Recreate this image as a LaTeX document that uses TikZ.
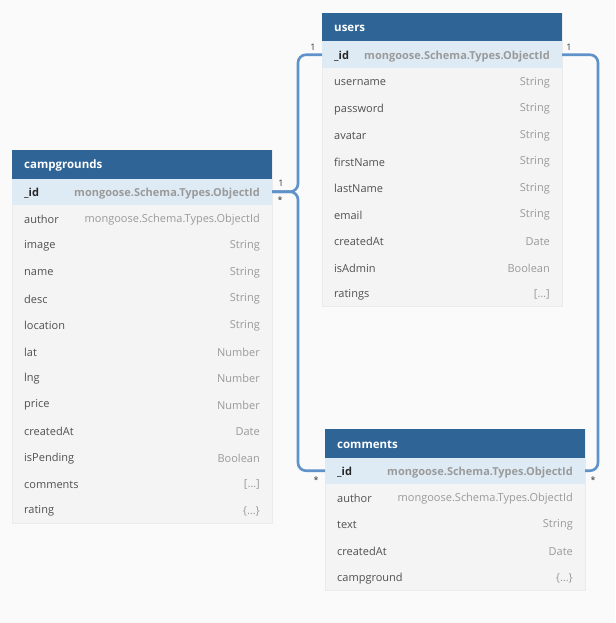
\documentclass[tikz,border=0pt]{standalone}
\usepackage{fontspec}
\setmainfont{Open Sans}
\usetikzlibrary{calc}
\definecolor{bgc}{HTML}{FAFAFA}
\definecolor{tblc}{HTML}{F4F4F4}
\definecolor{tblborder}{HTML}{EBEBEB}
\definecolor{hdrc}{HTML}{2E6596}
\definecolor{idc}{HTML}{DEEBF5}
\definecolor{fieldc}{HTML}{505050}
\definecolor{typec}{HTML}{9A9A9A}
\definecolor{connc}{HTML}{5F92C8}
\tikzset{
  hdrbox/.style={fill=hdrc, draw=none, minimum height=28.5pt, inner sep=0pt, outer sep=0pt},
  idbox/.style={fill=idc, draw=none, minimum height=26.5pt, inner sep=0pt, outer sep=0pt},
  rowbox/.style={draw=none, minimum height=26.5pt, inner sep=0pt, outer sep=0pt},
  hdrtext/.style={font=\fontsize{11.5}{13}\selectfont\bfseries, text=white, inner sep=0pt},
  fieldtext/.style={font=\fontsize{11}{12}\selectfont, text=fieldc, inner sep=0pt},
  typetext/.style={font=\fontsize{11}{12}\selectfont, text=typec, inner sep=0pt},
  idname/.style={font=\fontsize{11}{12}\selectfont\bfseries, text=black!85, inner sep=0pt},
  idtype/.style={font=\fontsize{11}{12}\selectfont\bfseries, text=typec, inner sep=0pt},
  conn/.style={draw=connc, line width=2.6pt, rounded corners=8pt},
  mult/.style={font=\fontsize{9}{10}\selectfont, text=black!80, inner sep=0pt}
}
% #1 name, #2 x, #3 ytop, #4 width, #5 number of rows, #6 title, #7 id type, #8 other rows
\newcommand\mktable[8]{%
  \fill[tblc, draw=tblborder, line width=0.5pt] (#2,#3) rectangle ++(#4,{28.5+#5*26.5});
  \node[hdrbox, minimum width=#4pt, anchor=north west] (#1-h) at (#2,#3) {};
  \node[hdrtext, anchor=west] (#1-t) at ($(#1-h.west)+(12,1.5)$) {#6};
  \node[idbox, minimum width=#4pt, anchor=north west] (#1-id) at (#2,{#3+28.5}) {};
  \node[idname, anchor=west] (#1-idn) at ($(#1-id.west)+(12,1.5)$) {\_id};
  \node[idtype, anchor=east] (#1-idt) at ($(#1-id.east)+(-12,1.5)$) {#7};
  \foreach [count=\i from 2] \f/\t in {#8} {
    \node[rowbox, minimum width=#4pt, anchor=north west] (#1-r\i) at (#2,{#3+28.5+(\i-1)*26.5}) {};
    \node[fieldtext, anchor=west] (#1-f\i) at ($(#1-r\i.west)+(12,1.5)$) {\f};
    \node[typetext, anchor=east] (#1-y\i) at ($(#1-r\i.east)+(-12,1.5)$) {\t};
  }%
}
\begin{document}
\begin{tikzpicture}[x=1pt, y=-1pt]
\useasboundingbox[fill=bgc] (0,0) rectangle (615,623);
\mktable{users}{322}{13}{240}{10}{users}{mongoose.Schema.Types.ObjectId}{username/String, password/String, avatar/String, firstName/String, lastName/String, email/String, createdAt/Date, isAdmin/Boolean, ratings/{[\ldots]}}
\mktable{camp}{12}{150}{260}{13}{campgrounds}{mongoose.Schema.Types.ObjectId}{author/mongoose.Schema.Types.ObjectId, image/String, name/String, desc/String, location/String, lat/Number, lng/Number, price/Number, createdAt/Date, isPending/Boolean, comments/{[\ldots]}, rating/{\{\ldots\}}}
\mktable{comm}{325}{429}{260}{5}{comments}{mongoose.Schema.Types.ObjectId}{author/mongoose.Schema.Types.ObjectId, text/String, createdAt/Date, campground/{\{\ldots\}}}
\coordinate (lbus) at (298,0);
\coordinate (rbus) at (598,0);
\draw[conn] (camp-id.east) -| (lbus |- users-id.west) -- (users-id.west);
\draw[conn] (camp-id.east) -| (lbus |- comm-id.west) -- (comm-id.west);
\draw[conn] (users-id.east) -| (rbus |- comm-id.west) -- (comm-id.east);
\node[mult] (m1) at (313,47) {1};
\node[mult] (m2) at (281,183) {1};
\node[mult] (m3) at (280,200) {*};
\node[mult] (m4) at (316,480) {*};
\node[mult] (m5) at (569,47) {1};
\node[mult] (m6) at (593,480) {*};
\end{tikzpicture}
\end{document}
